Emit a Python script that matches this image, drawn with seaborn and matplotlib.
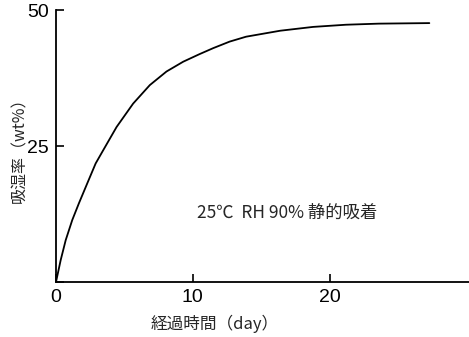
import pandas as pd
import matplotlib
matplotlib.use('Agg')
import matplotlib.pyplot as plt
import seaborn as sns

# values
days = [0, 0.34, 0.71, 1.19, 1.68, 2.28, 2.9, 3.4, 4.43, 5.64, 6.86, 8.08, 9.3, 10.5,
        11.5, 12.7, 13.9, 16.4, 18.8, 21.2, 23.6, 27.3]
uptake = [0, 4.0, 7.7, 11.4, 14.5, 18.1, 21.8, 24.0, 28.5, 32.8, 36.2, 38.7, 40.5, 41.9,
          43.0, 44.2, 45.1, 46.2, 46.9, 47.3, 47.5, 47.6]
xticks = [0, 10, 20]
yticks = [0, 25, 50]
ytick_labels = ['', '25', '50']

df = pd.DataFrame({'day': days, 'wt': uptake})

sns.set_style('white')
plt.rcParams['font.family'] = ['Noto Sans CJK JP', 'DejaVu Sans']

fig = plt.figure(figsize=(4.69, 3.37), dpi=100)
ax = fig.add_axes([0.1194, 0.1632, 0.8806, 0.807])

sns.lineplot(data=df, x='day', y='wt', ax=ax, color='black', linewidth=1.3)

ax.set_xlim(0, 30.2)
ax.set_ylim(0, 50)
ax.set_xticks(xticks)
ax.set_yticks(yticks)
ax.set_yticklabels(ytick_labels)
ax.tick_params(bottom=True, left=True, direction='in', length=6, width=1.2,
               labelsize=14, pad=5, colors='black')
for lbl in ax.get_xticklabels() + ax.get_yticklabels():
    lbl.set_family(['Liberation Sans', 'DejaVu Sans'])

ax.spines['top'].set_visible(False)
ax.spines['right'].set_visible(False)
for s in ['left', 'bottom']:
    ax.spines[s].set_linewidth(1.3)
    ax.spines[s].set_color('black')

ax.set_xlabel('経過時間（day）', fontsize=12, labelpad=6)
ax.xaxis.label.set_x(0.385)
ax.set_ylabel('吸湿率（wt%）', fontsize=11.5, labelpad=-1)
ax.text(10.3, 12.7, '25℃  RH 90% 静的吸着', fontsize=12.5, va='center', ha='left')

fig.savefig('out.png', dpi=100)
